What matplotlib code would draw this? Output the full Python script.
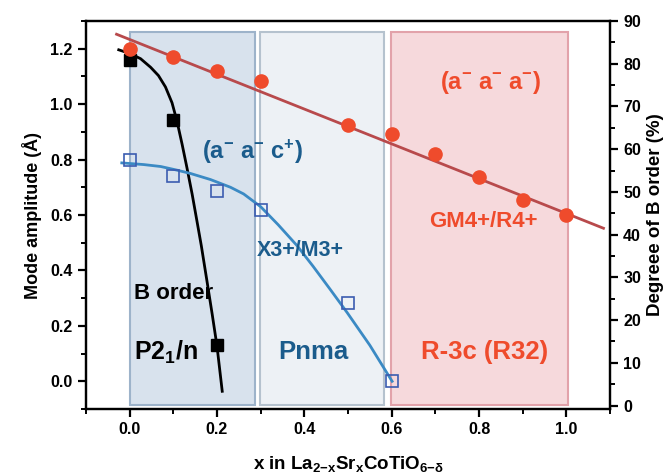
import matplotlib
matplotlib.use('Agg')
import matplotlib.pyplot as plt
from matplotlib.patches import Rectangle
from matplotlib.ticker import MultipleLocator

plt.rcParams['font.family'] = ['Liberation Sans', 'DejaVu Sans']
plt.rcParams['font.weight'] = 'bold'
plt.rcParams['axes.labelweight'] = 'bold'
plt.rcParams['mathtext.fontset'] = 'custom'
plt.rcParams['mathtext.rm'] = 'Liberation Sans:bold'
plt.rcParams['mathtext.bf'] = 'Liberation Sans:bold'
plt.rcParams['mathtext.it'] = 'Liberation Sans:bold'
plt.rcParams['mathtext.default'] = 'bf'

# degree of B order (%), right axis
order_x = [0.0, 0.1, 0.2, 0.3, 0.5, 0.6, 0.7, 0.8, 0.9, 1.0]
order_pct = [83.5, 81.6, 78.3, 76.0, 65.7, 63.6, 58.8, 53.4, 48.1, 44.7]
order_fit_x = [-0.03, 1.085]
order_fit_y = [86.9, 41.5]

# B order mode amplitude, left axis
border_x = [0.0, 0.1, 0.2]
border_amp = [1.16, 0.944, 0.13]
border_curve_x = [-0.025, 0.0, 0.025, 0.048, 0.066, 0.082, 0.097, 0.108, 0.120,
                  0.131, 0.143, 0.154, 0.164, 0.177, 0.189, 0.200, 0.212]
border_curve_y = [1.196, 1.183, 1.164, 1.133, 1.103, 1.062, 1.005, 0.941, 0.856,
                  0.772, 0.676, 0.579, 0.490, 0.362, 0.242, 0.127, -0.036]

# X3+/M3+ mode amplitude, left axis
x3m3_x = [0.0, 0.1, 0.2, 0.3, 0.5, 0.6]
x3m3_amp = [0.799, 0.739, 0.685, 0.618, 0.281, 0.0]
x3m3_curve_x = [-0.018, 0.032, 0.071, 0.108, 0.139, 0.185, 0.231, 0.261, 0.30,
                0.34, 0.383, 0.42, 0.46, 0.498, 0.55, 0.601]
x3m3_curve_y = [0.788, 0.782, 0.775, 0.762, 0.750, 0.728, 0.700, 0.676, 0.630,
                0.565, 0.490, 0.415, 0.330, 0.248, 0.130, 0.0]

# phase regions: (x start, x end, fill, edge)
regions = [
    (0.0, 0.286, '#d8e2ed', '#9db3ca'),
    (0.299, 0.583, '#edf1f5', '#b5c2ce'),
    (0.599, 1.003, '#f6d9dc', '#e2a2aa'),
]
region_ylo, region_yhi = -0.084, 1.262

dark_blue = '#1b5c8c'
red = '#ef4b2c'

fig = plt.figure(figsize=(6.64, 4.74), dpi=100)
ax = fig.add_axes([0.1295, 0.1371, 0.7892, 0.8186])
ax2 = ax.twinx()

for x0, x1, fc, ec in regions:
    ax.add_patch(Rectangle((x0, region_ylo), x1 - x0, region_yhi - region_ylo,
                           facecolor=fc, edgecolor=ec, lw=1.5, zorder=0))

ax.plot(border_curve_x, border_curve_y, color='black', lw=2,
        solid_joinstyle='round', zorder=3)
ax.plot(border_x, border_amp, 's', color='black', ms=8, zorder=4)
ax.plot(x3m3_curve_x, x3m3_curve_y, color='#3b8ac4', lw=2,
        solid_joinstyle='round', zorder=3)
ax.plot(x3m3_x, x3m3_amp, 's', mfc='none', mec='#3b5cb0', mew=1.2, ms=8, zorder=4)

ax2.plot(order_fit_x, order_fit_y, color='#b84a4c', lw=2, zorder=3)
ax2.plot(order_x, order_pct, 'o', color=red, ms=9.5, zorder=4)

ax.text(0.281, 0.829, '(a$^{-}$ a$^{-}$ c$^{+}$)', color=dark_blue, fontsize=17,
        ha='center', va='center')
ax.text(0.39, 0.471, 'X3+/M3+', color=dark_blue, fontsize=15.5, ha='center', va='center')
ax.text(0.009, 0.318, 'B order', color='black', fontsize=16, ha='left', va='center')
ax.text(0.009, 0.104, 'P2$_1$/n', color='black', fontsize=18, ha='left', va='center')
ax.text(0.42, 0.104, 'Pnma', color=dark_blue, fontsize=18.5, ha='center', va='center')
ax.text(0.813, 0.104, 'R-3c (R32)', color=red, fontsize=18.5, ha='center', va='center')
ax.text(0.826, 1.078, '(a$^{-}$ a$^{-}$ a$^{-}$)', color=red, fontsize=17,
        ha='center', va='center')
ax.text(0.811, 0.575, 'GM4+/R4+', color=red, fontsize=16, ha='center', va='center')

ax.set_xlim(-0.1, 1.1)
ax.set_ylim(-0.1, 1.3)
ax2.set_ylim(-0.8, 90)

ax.xaxis.set_major_locator(MultipleLocator(0.2))
ax.xaxis.set_minor_locator(MultipleLocator(0.1))
ax.yaxis.set_major_locator(MultipleLocator(0.2))
ax.yaxis.set_minor_locator(MultipleLocator(0.1))
ax2.yaxis.set_major_locator(MultipleLocator(10))
ax2.yaxis.set_minor_locator(MultipleLocator(5))

ax.set_xticks([0.0, 0.2, 0.4, 0.6, 0.8, 1.0])
ax.set_yticks([0.0, 0.2, 0.4, 0.6, 0.8, 1.0, 1.2])

for a in (ax, ax2):
    for s in a.spines.values():
        s.set_linewidth(1.6)
    a.tick_params(which='major', length=6, width=1.6, labelsize=11.5)
    a.tick_params(which='minor', length=3.5, width=1.4)

ax.set_xlabel(r'x in La$_{2{-}x}$Sr$_x$CoTiO$_{6{-}\delta}$', fontsize=13.5, labelpad=12)
ax.set_ylabel('Mode amplitude (Å)', fontsize=13, labelpad=6)
ax2.set_ylabel('Degreee of B order (%)', fontsize=13.5, labelpad=4)

plt.savefig('out.png', dpi=100)
